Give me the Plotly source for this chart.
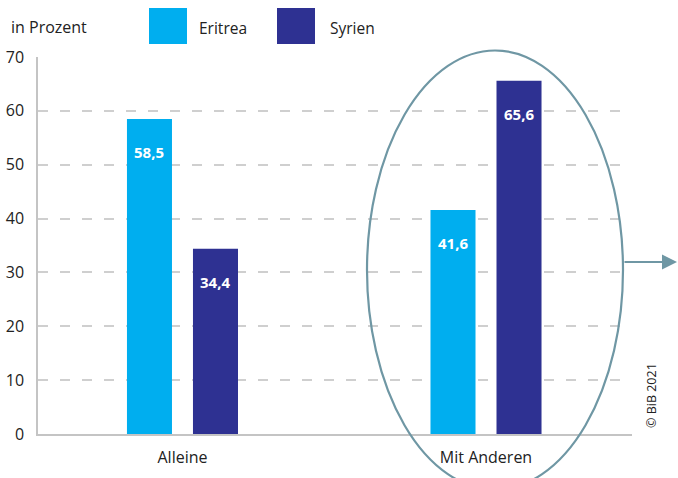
import plotly.graph_objects as go

categories = ["Alleine", "Mit Anderen"]
series_names = ["Eritrea", "Syrien"]
eritrea = [58.5, 41.6]
syrien = [34.4, 65.6]
y_ticks = [0, 10, 20, 30, 40, 50, 60, 70]
colors = ["#00AEEF", "#2E3192"]

FONT = "Open Sans"
TXT = "#222222"

W, H = 678, 478
L, R, T, B = 38, 46, 57, 44
PW, PH = W - L - R, H - T - B


def px(x):
    return (x - L) / PW


def py(y):
    return (H - B - y) / PH


def fmt(v):
    return f"{v:.1f}".replace(".", ",")


fig = go.Figure()
for name, vals, col in zip(series_names, [eritrea, syrien], colors):
    fig.add_trace(go.Bar(x=categories, y=vals, name=name, marker_color=col,
                         marker_line_width=0, showlegend=False, hoverinfo="skip"))

annotations = []
shifts = [-33, 33]
for vals, sh in zip([eritrea, syrien], shifts):
    for c, v in zip(categories, vals):
        annotations.append(dict(x=c, y=v, xref="x", yref="y", text=f"<b>{fmt(v)}</b>",
                                showarrow=False, xshift=sh, yshift=-33,
                                font=dict(family=FONT, size=15, color="white")))

# legend-like header
leg_x = [(149, 187, 197), (277, 315, 328)]
shapes = []
for (x0, x1, tx), name, col in zip(leg_x, series_names, colors):
    shapes.append(dict(type="rect", xref="paper", yref="paper", x0=px(x0), x1=px(x1),
                       y0=py(44), y1=py(8), fillcolor=col, line_width=0))
    annotations.append(dict(x=px(tx), y=py(28), xref="paper", yref="paper", text=name,
                            showarrow=False, xanchor="left", yanchor="middle",
                            font=dict(family=FONT, size=15.5, color=TXT)))

annotations.append(dict(x=px(9), y=py(27), xref="paper", yref="paper", text="in Prozent",
                        showarrow=False, xanchor="left", yanchor="middle",
                        font=dict(family=FONT, size=16, color=TXT)))
annotations.append(dict(x=px(651), y=py(396), xref="paper", yref="paper", text="© BiB 2021",
                        showarrow=False, textangle=-90, xanchor="center", yanchor="middle",
                        font=dict(family=FONT, size=12.5, color=TXT)))

# highlight ellipse and arrow
shapes.append(dict(type="circle", xref="paper", yref="paper", x0=px(367), x1=px(623),
                   y0=py(489.5), y1=py(50.5), line=dict(color="#6F97A4", width=2.2),
                   fillcolor="rgba(0,0,0,0)", layer="above"))
annotations.append(dict(x=px(677), y=py(262), xref="paper", yref="paper", text="",
                        showarrow=True, ax=-54, ay=0, arrowhead=2, arrowsize=1.5,
                        arrowwidth=2, arrowcolor="#6F97A4", standoff=0))

fig.update_layout(
    width=W, height=H,
    margin=dict(l=L, r=R, t=T, b=B, pad=0, autoexpand=False),
    paper_bgcolor="white", plot_bgcolor="white",
    barmode="group", bargap=0.565, bargroupgap=0.318,
    font=dict(family=FONT, size=16, color=TXT),
    shapes=shapes, annotations=annotations,
)
fig.update_xaxes(range=[-0.476, 1.481], showline=True, linecolor="#c4c4c4", linewidth=1.5,
                 showgrid=False, ticks="", ticklabelstandoff=8, automargin=False,
                 tickfont=dict(family=FONT, size=16, color=TXT), fixedrange=True)
fig.update_yaxes(range=[0, 70], tickvals=y_ticks, showline=True, linecolor="#c4c4c4",
                 linewidth=1.5, showgrid=True, gridcolor="#cfcfcf", gridwidth=1.5,
                 griddash="10px,12px", zeroline=False, ticks="", ticklabelstandoff=9,
                 automargin=False,
                 tickfont=dict(family=FONT, size=16, color=TXT), fixedrange=True)

fig.write_html("out.html")
